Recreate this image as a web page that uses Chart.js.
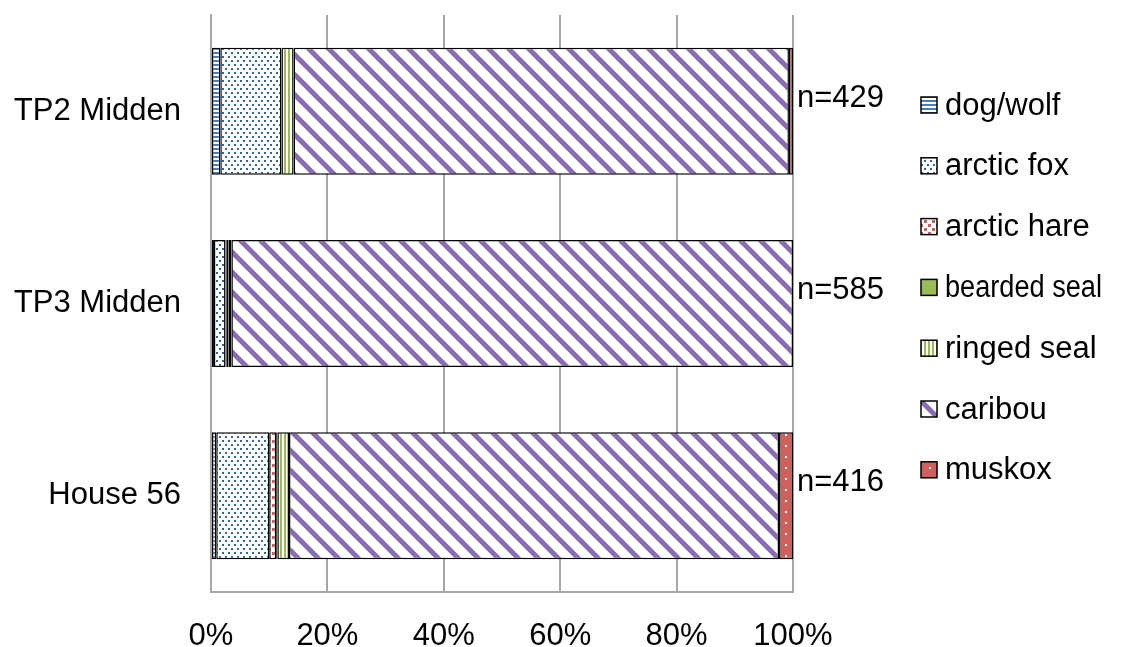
<!DOCTYPE html>
<html>
<head>
<meta charset="utf-8">
<title>Faunal composition by context</title>
<script src="https://cdn.jsdelivr.net/npm/chart.js@4.4.1/dist/chart.umd.min.js"></script>
<style>
  html, body { margin: 0; padding: 0; background: #ffffff; }
  #wrap { width: 1131px; height: 647px; }
</style>
</head>
<body>
<div id="wrap"><canvas id="chart" width="1131" height="647"></canvas></div>
<script>
// Contexts (bars) and sample sizes
const categories = ['TP2 Midden', 'TP3 Midden', 'House 56'];
const sampleSizes = [429, 585, 416];

// Percent of NISP per taxon in each context
const dogWolf     = [1.6, 0.5, 0.9];
const arcticFox   = [10.5, 2.0, 9.1];
const arcticHare  = [0.0, 0.2, 1.2];
const beardedSeal = [0.0, 0.3, 0.2];
const ringedSeal  = [2.1, 0.5, 2.0];
const caribou     = [85.1, 96.5, 84.2];
const muskox      = [0.7, 0.0, 2.4];

const taxonNames = ['dog/wolf', 'arctic fox', 'arctic hare', 'bearded seal', 'ringed seal', 'caribou', 'muskox'];
const tickValues = [0, 20, 40, 60, 80, 100];

const FONT = '"Liberation Sans", Arial, sans-serif';

// ---- fill patterns ----
function makePattern(w, h, draw) {
  const c = document.createElement('canvas');
  c.width = w; c.height = h;
  const g = c.getContext('2d');
  draw(g, w, h);
  return g.createPattern(c, 'repeat');
}
const ctxMain = document.getElementById('chart').getContext('2d');

const BLUE = '#4a7ebb';
const BLUE_DARK = '#336699';
const RED = '#d0605c';
const GREEN = '#9bbb59';
const PURPLE = '#8a6db0';

const patDog = makePattern(4, 4, (g) => {
  g.fillStyle = '#fff'; g.fillRect(0, 0, 4, 4);
  g.fillStyle = BLUE; g.fillRect(0, 0, 4, 2);
});
const patFox = makePattern(6, 8, (g) => {
  g.fillStyle = '#fff'; g.fillRect(0, 0, 6, 8);
  g.fillStyle = BLUE_DARK;
  g.fillRect(0, 0, 2, 2);
  g.fillRect(3, 4, 2, 2);
});
const patHare = makePattern(8, 8, (g) => {
  g.fillStyle = '#fff'; g.fillRect(0, 0, 8, 8);
  g.fillStyle = RED;
  g.fillRect(0, 0, 3, 3);
  g.fillRect(4, 4, 3, 3);
});
const patRinged = makePattern(4, 4, (g) => {
  g.fillStyle = '#fff'; g.fillRect(0, 0, 4, 4);
  g.fillStyle = GREEN; g.fillRect(0, 0, 2, 4);
});
const patCaribou = makePattern(20, 20, (g, w) => {
  g.fillStyle = '#fff'; g.fillRect(0, 0, w, w);
  g.strokeStyle = PURPLE; g.lineWidth = 5;
  for (const k of [-w, 0, w]) {
    g.beginPath(); g.moveTo(k - 2, -2); g.lineTo(k + w + 2, w + 2); g.stroke();
  }
});
const patMuskox = makePattern(12, 11, (g) => {
  g.fillStyle = RED; g.fillRect(0, 0, 12, 11);
  g.fillStyle = '#fff'; g.fillRect(5, 5, 2, 2);
});

const fills = [patDog, patFox, patHare, GREEN, patRinged, patCaribou, patMuskox];
const series = [dogWolf, arcticFox, arcticHare, beardedSeal, ringedSeal, caribou, muskox];

const datasets = series.map((vals, i) => ({
  label: taxonNames[i],
  data: vals,
  backgroundColor: fills[i],
  borderColor: '#000000',
  borderWidth: 1.5,
  borderSkipped: false,
  categoryPercentage: 1.0,
  barPercentage: 0.66
}));

// Sample size labels to the right of each bar
const sampleLabels = {
  id: 'sampleLabels',
  afterDatasetsDraw(chart) {
    const { ctx, chartArea, scales } = chart;
    ctx.save();
    ctx.font = '31px ' + FONT;
    ctx.fillStyle = '#000';
    ctx.textAlign = 'left';
    ctx.textBaseline = 'middle';
    sampleSizes.forEach((n, i) => {
      const y = scales.y.getPixelForValue(i);
      ctx.fillText('n=' + n, chartArea.right + 4, y - 13);
    });
    ctx.restore();
  }
};

// Legend drawn as a column on the right
const sideLegend = {
  id: 'sideLegend',
  afterDraw(chart) {
    const { ctx, chartArea } = chart;
    const x0 = chartArea.right + 128;
    ctx.save();
    ctx.font = '31px ' + FONT;
    ctx.textAlign = 'left';
    ctx.textBaseline = 'middle';
    taxonNames.forEach((name, i) => {
      const y = 105 + i * 60.8;
      ctx.fillStyle = fills[i];
      ctx.fillRect(x0, y - 8, 16, 16);
      ctx.strokeStyle = '#000';
      ctx.lineWidth = 1.5;
      ctx.strokeRect(x0, y - 8, 16, 16);
      ctx.fillStyle = '#000';
      ctx.fillText(name, x0 + 24, y + 1, 157);
    });
    ctx.restore();
  }
};

new Chart(ctxMain, {
  type: 'bar',
  data: { labels: categories, datasets },
  options: {
    indexAxis: 'y',
    responsive: false,
    devicePixelRatio: 1,
    animation: false,
    layout: { padding: { top: 15, right: 338, left: 0, bottom: 0 } },
    plugins: {
      legend: { display: false },
      tooltip: { enabled: false }
    },
    scales: {
      x: {
        stacked: true,
        min: 0,
        max: 100,
        afterBuildTicks(scale) { scale.ticks = tickValues.map(v => ({ value: v })); },
        afterFit(scale) { scale.height = 55; },
        grid: { color: '#a6a6a6', lineWidth: 2, drawTicks: false },
        border: { display: true, color: '#a6a6a6', width: 2 },
        ticks: {
          padding: 26,
          color: '#000',
          font: { family: FONT, size: 31 },
          callback: (v) => v + '%'
        }
      },
      y: {
        stacked: true,
        afterFit(scale) {
          scale.width = 211;
          scale.paddingTop = 0;
          scale.paddingBottom = 0;
        },
        grid: { display: false, drawTicks: false },
        border: { display: true, color: '#a6a6a6', width: 2 },
        ticks: {
          padding: 30,
          color: '#000',
          font: { family: FONT, size: 31 }
        }
      }
    }
  },
  plugins: [sampleLabels, sideLegend]
});
</script>
</body>
</html>
